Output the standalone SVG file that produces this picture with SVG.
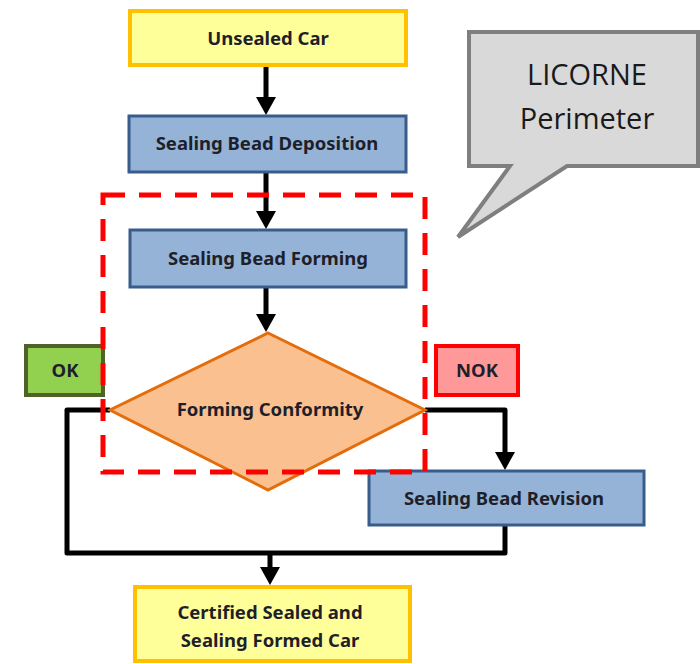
<svg xmlns="http://www.w3.org/2000/svg" width="700" height="664" viewBox="0 0 700 664">
<defs>
<style>
.t{font-family:"Noto Sans","Open Sans","Liberation Sans",sans-serif;font-weight:bold;font-size:18.5px;fill:#1f1f2a;text-anchor:middle}
.yel{fill:#FFFF99;stroke:#FFC000;stroke-width:4}
.blu{fill:#95B3D7;stroke:#385D8A;stroke-width:3}
.con{fill:none;stroke:#000;stroke-width:5;stroke-linejoin:round}
.ah{fill:#000}
.cl{font-family:"Open Sans","Noto Sans","Liberation Sans",sans-serif;font-size:29px;fill:#1a1a1a;text-anchor:middle}
</style>
</defs>
<rect width="700" height="664" fill="#fff"/>
<g id="connectors">
<line class="con" x1="266" y1="65" x2="266" y2="100"/>
<polygon class="ah" points="256,97 276,97 266,115"/>
<line class="con" x1="266" y1="172" x2="266" y2="214"/>
<polygon class="ah" points="256,211 276,211 266,229"/>
<line class="con" x1="266" y1="287" x2="266" y2="317"/>
<polygon class="ah" points="256,314 276,314 266,332"/>
<polyline class="con" points="425,410 505,410 505,455"/>
<polygon class="ah" points="495,452 515,452 505,470"/>
<polyline class="con" points="110,410 67,410 67,553 505,553 505,525"/>
<line class="con" x1="270" y1="553" x2="270" y2="570"/>
<polygon class="ah" points="260,567 280,567 270,585"/>
</g>
<g id="unsealed">
<rect class="yel" x="130" y="11" width="276" height="54"/>
<text class="t" x="268" y="45">Unsealed Car</text>
</g>
<g id="deposition">
<rect class="blu" x="129" y="116" width="277" height="56"/>
<text class="t" x="267" y="150">Sealing Bead Deposition</text>
</g>
<g id="forming">
<rect class="blu" x="130" y="230" width="276" height="57"/>
<text class="t" x="268" y="265">Sealing Bead Forming</text>
</g>
<g id="conformity">
<polygon points="268,333 425,410 268,490 110,410" fill="#FAC090" stroke="#E46C0A" stroke-width="3"/>
<text class="t" x="270" y="416">Forming Conformity</text>
</g>
<g id="revision">
<rect class="blu" x="369" y="471" width="275" height="54"/>
<text class="t" x="504" y="505">Sealing Bead Revision</text>
</g>
<g id="certified">
<rect class="yel" x="135" y="587" width="275" height="74"/>
<text class="t" x="270" y="619">Certified Sealed and</text>
<text class="t" x="270" y="647">Sealing Formed Car</text>
</g>
<g id="ok">
<rect x="26" y="346" width="77" height="49" fill="#92D050" stroke="#4F6228" stroke-width="4"/>
<text class="t" x="65" y="377">OK</text>
</g>
<g id="nok">
<rect x="436" y="346" width="82" height="49" fill="#FF9999" stroke="#FF0000" stroke-width="4"/>
<text class="t" x="477" y="377">NOK</text>
</g>
<g id="perimeter">
<rect x="103" y="195" width="322" height="277" fill="none" stroke="#FF0000" stroke-width="5" stroke-dasharray="22,14"/>
</g>
<g id="callout">
<path d="M469,32 L698,32 L698,166 L567,166 L458,237 L510,166 L469,166 Z" fill="#D9D9D9" stroke="#7F7F7F" stroke-width="4" stroke-linejoin="miter"/>
<text class="cl" x="587" y="85">LICORNE</text>
<text class="cl" x="587" y="129">Perimeter</text>
</g>
</svg>
